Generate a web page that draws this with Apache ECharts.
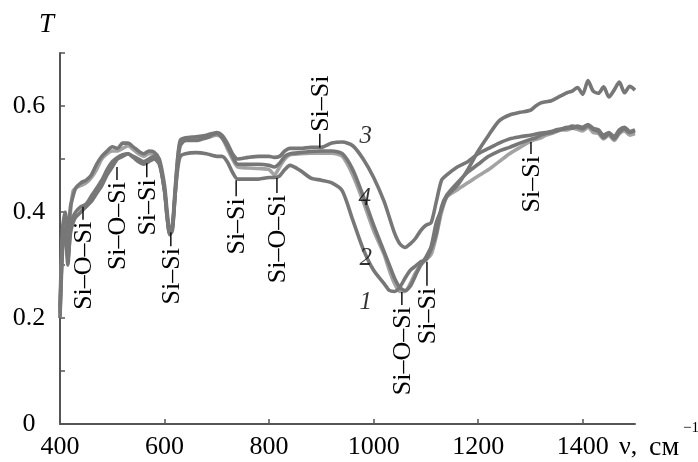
<!DOCTYPE html>
<html><head><meta charset="utf-8">
<script src="https://cdn.jsdelivr.net/npm/echarts@6/dist/echarts.min.js"></script>
<style>html,body{margin:0;padding:0;background:#fff}#c{width:698px;height:462px}</style>
</head><body><div id="c"></div>
<script>
// ---- data ----
const WN = [400,405,410,415,420,425,430,440,450,460,470,480,490,500,510,520,530,540,550,560,570,580,590,600,605,610,615,620,625,630,640,660,680,700,710,720,730,740,760,780,800,810,820,830,840,860,880,900,920,940,960,980,1000,1020,1030,1040,1050,1060,1070,1080,1090,1100,1110,1120,1130,1140,1160,1180,1200,1220,1240,1260,1280,1300,1310,1320,1330,1340,1350,1360,1370,1380,1390,1400,1410,1420,1430,1440,1450,1460,1470,1480,1490,1500];
const T1 = [0.21,0.34,0.36,0.30,0.37,0.39,0.40,0.41,0.415,0.43,0.445,0.46,0.48,0.495,0.503,0.508,0.51,0.503,0.495,0.49,0.495,0.50,0.49,0.44,0.39,0.357,0.365,0.43,0.49,0.525,0.535,0.535,0.54,0.548,0.54,0.525,0.505,0.49,0.49,0.49,0.488,0.485,0.492,0.505,0.51,0.512,0.514,0.515,0.515,0.51,0.48,0.43,0.375,0.325,0.30,0.275,0.258,0.252,0.26,0.28,0.30,0.315,0.335,0.38,0.405,0.43,0.45,0.48,0.515,0.545,0.572,0.583,0.588,0.592,0.60,0.606,0.608,0.61,0.615,0.62,0.625,0.628,0.635,0.622,0.648,0.628,0.624,0.636,0.617,0.63,0.645,0.625,0.637,0.63];
const T2 = [0.20,0.33,0.37,0.31,0.36,0.38,0.39,0.40,0.41,0.42,0.435,0.45,0.47,0.485,0.50,0.505,0.51,0.505,0.50,0.495,0.50,0.505,0.495,0.44,0.39,0.36,0.37,0.43,0.48,0.505,0.51,0.512,0.51,0.505,0.505,0.495,0.475,0.462,0.462,0.462,0.465,0.465,0.468,0.48,0.488,0.478,0.464,0.46,0.455,0.44,0.385,0.33,0.29,0.265,0.252,0.25,0.258,0.275,0.29,0.298,0.306,0.31,0.33,0.36,0.41,0.432,0.455,0.475,0.49,0.505,0.515,0.522,0.53,0.537,0.54,0.545,0.548,0.55,0.553,0.556,0.558,0.562,0.56,0.557,0.563,0.556,0.552,0.54,0.548,0.538,0.55,0.557,0.55,0.553];
const T3 = [0.22,0.37,0.40,0.35,0.41,0.43,0.445,0.455,0.46,0.47,0.49,0.505,0.515,0.523,0.52,0.53,0.53,0.523,0.515,0.51,0.515,0.513,0.50,0.45,0.40,0.365,0.375,0.44,0.50,0.535,0.54,0.542,0.545,0.55,0.545,0.53,0.51,0.50,0.503,0.505,0.505,0.503,0.505,0.515,0.52,0.52,0.522,0.522,0.53,0.532,0.525,0.50,0.465,0.42,0.39,0.36,0.34,0.333,0.34,0.35,0.365,0.375,0.38,0.42,0.46,0.47,0.485,0.495,0.51,0.52,0.53,0.538,0.542,0.545,0.547,0.549,0.55,0.552,0.555,0.557,0.56,0.558,0.562,0.56,0.565,0.558,0.555,0.545,0.55,0.542,0.555,0.56,0.552,0.555];
const T4 = [0.20,0.35,0.38,0.32,0.40,0.44,0.445,0.45,0.455,0.465,0.48,0.50,0.51,0.515,0.515,0.52,0.525,0.518,0.51,0.505,0.51,0.51,0.495,0.44,0.39,0.36,0.37,0.43,0.50,0.53,0.535,0.538,0.54,0.545,0.54,0.52,0.50,0.485,0.483,0.482,0.48,0.47,0.485,0.50,0.508,0.51,0.511,0.511,0.511,0.505,0.47,0.42,0.365,0.32,0.29,0.265,0.25,0.25,0.265,0.285,0.30,0.31,0.32,0.355,0.40,0.428,0.442,0.455,0.468,0.48,0.495,0.51,0.522,0.533,0.537,0.54,0.545,0.548,0.552,0.555,0.555,0.558,0.556,0.553,0.56,0.55,0.548,0.538,0.545,0.535,0.548,0.553,0.545,0.548];

const yTickLabels = ['0','0.2','0.4','0.6'];
const xTickLabels = ['400','600','800','1000','1200','1400'];

// band annotations
const annotText = ['Si–O–Si','Si–O–Si','Si–Si','Si–Si','Si–Si','Si–O–Si','Si–Si','Si–O–Si','Si–Si','Si–Si'];
const annotX    = [444, 509, 566, 612, 737, 815, 897, 1054, 1102, 1301];
const annotT    = [0.41, 0.485, 0.492, 0.362, 0.46, 0.464, 0.521, 0.249, 0.306, 0.532];
const annotSide = ['below','below','below','below','below','below','above','below','below','below'];

// curve numbers
const curveLabelText = ['3','4','2','1'];
const curveLabelX = [985, 983, 985, 985];
const curveLabelT = [0.543, 0.425, 0.313, 0.23];

// ---- layout / style constants ----
const TICK_LEN = [13, 13, 14, 14, 16, 15, 14, 13, 24, 12];
const FONT = '"Liberation Serif","Times New Roman",serif';

const chart = echarts.init(document.getElementById('c'));
const mk = arr => WN.map((x, i) => [x, arr[i]]);
const lineSeries = (name, arr, color, z) => ({
  name, type: 'line', data: mk(arr), showSymbol: false, smooth: 0.25, z,
  lineStyle: { color, width: 3.6 }, silent: true
});
const plainText = (text, left, top, size, extra) => ({
  text, left, top, padding: 0,
  textStyle: Object.assign({ fontFamily: FONT, fontWeight: 'normal', fontSize: size, color: '#000' }, extra || {})
});

chart.setOption({
  animation: false,
  title: [
    plainText('T', 39, 11, 27, { fontStyle: 'italic' }),
    plainText('ν,', 619, 434, 26),
    plainText('см', 649, 434, 28),
    plainText('−1', 683, 421, 15)
  ],
  grid: { left: 60, right: 63, top: 53, bottom: 38 },
  xAxis: {
    type: 'value', min: 400, max: 1500, interval: 200,
    axisLine: { lineStyle: { color: '#555', width: 2 } },
    axisTick: { inside: true, length: 5, lineStyle: { color: '#555', width: 1.5 } },
    splitLine: { show: false },
    axisLabel: {
      showMaxLabel: false, margin: 10, color: '#000', fontFamily: FONT, fontSize: 26,
      formatter: v => { const s = String(Math.round(v)); return xTickLabels.includes(s) ? s : ''; }
    }
  },
  yAxis: {
    type: 'value', min: 0, max: 0.7, interval: 0.1,
    axisLine: { show: true, lineStyle: { color: '#555', width: 2 } },
    axisTick: { show: true, inside: true, length: 5, lineStyle: { color: '#555', width: 1.5 } },
    splitLine: { show: false },
    axisLabel: {
      align: 'center', margin: 31, color: '#000', fontFamily: FONT, fontSize: 26,
      formatter: v => { const s = (Math.round(v * 10) / 10).toString(); return yTickLabels.includes(s) ? s : ''; }
    }
  },
  series: [
    lineSeries('4', T4, '#a3a3a3', 2),
    lineSeries('2', T2, '#777777', 3),
    lineSeries('1', T1, '#777777', 3),
    lineSeries('3', T3, '#777777', 3),
    {
      type: 'custom', z: 5, silent: true,
      data: annotX.map((x, i) => [x, annotT[i]]),
      renderItem: function (params, api) {
        const i = params.dataIndex;
        const p = api.coord([api.value(0), api.value(1)]);
        const up = annotSide[i] === 'above';
        const len = TICK_LEN[i];
        const y2 = up ? p[1] - len : p[1] + len;
        const ty = up ? y2 - 2 : y2 + 2;
        return {
          type: 'group', children: [
            { type: 'line', shape: { x1: p[0], y1: p[1], x2: p[0], y2: y2 }, style: { stroke: '#111', lineWidth: 1.5 } },
            { type: 'text', x: p[0] + 1, y: ty, rotation: Math.PI / 2,
              style: { text: annotText[i], align: up ? 'left' : 'right', verticalAlign: 'middle', font: '26px ' + FONT, fill: '#000' } }
          ]
        };
      }
    },
    {
      type: 'scatter', z: 6, silent: true, symbolSize: 1, itemStyle: { color: 'rgba(0,0,0,0)' },
      data: curveLabelX.map((x, i) => [x, curveLabelT[i]]),
      label: { show: true, position: 'inside', formatter: p => curveLabelText[p.dataIndex],
        fontFamily: FONT, fontStyle: 'italic', fontSize: 25, color: '#000' }
    }
  ]
});
</script></body></html>
